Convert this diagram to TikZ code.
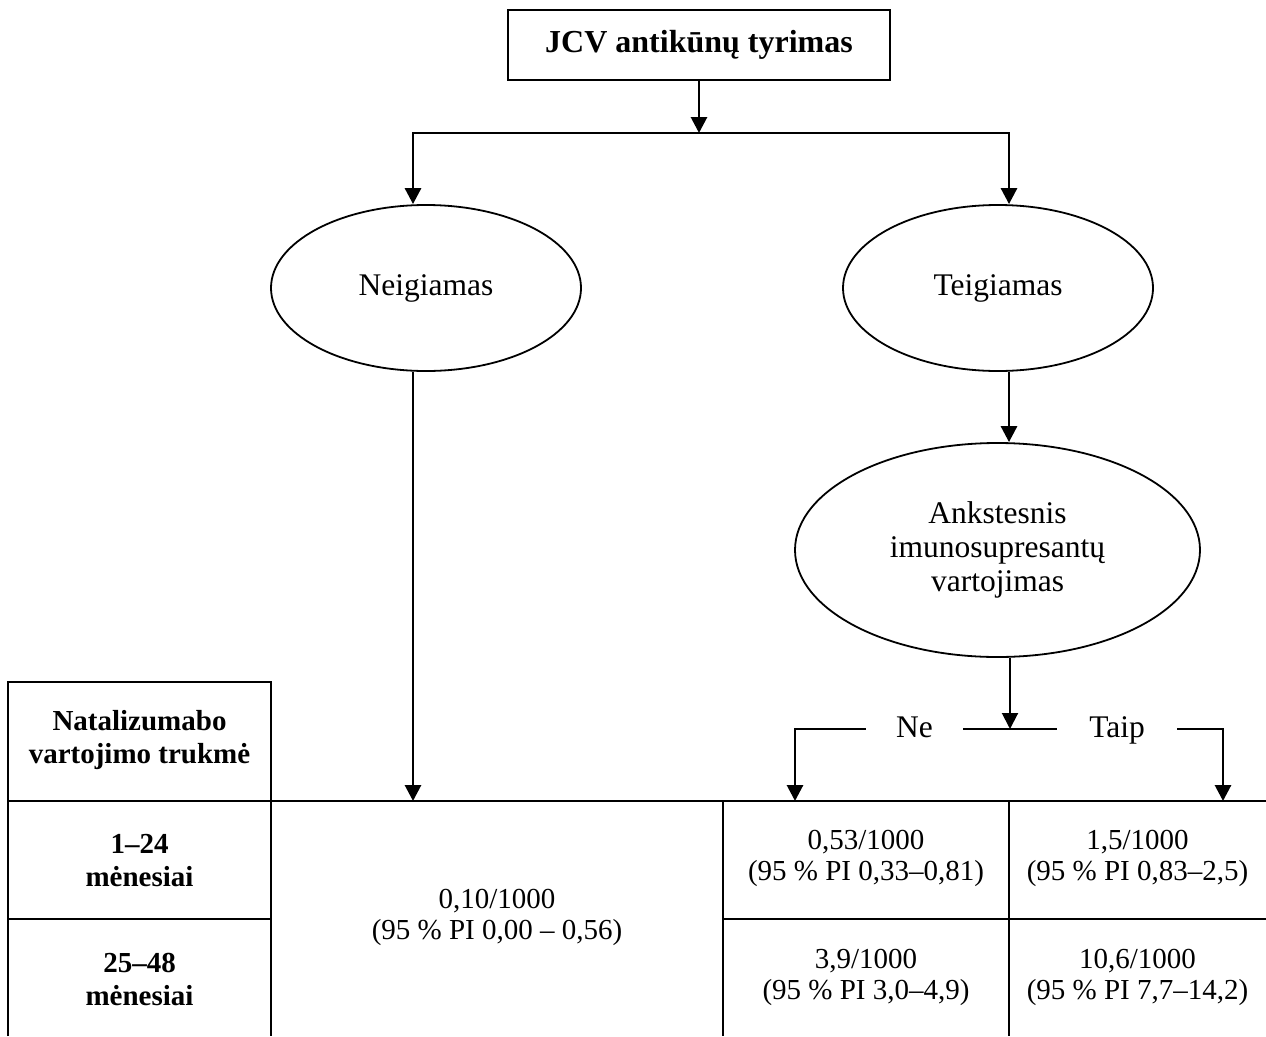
\documentclass[tikz,border=0pt]{standalone}
\usepackage{fontspec}
\setmainfont{Liberation Serif}
\usetikzlibrary{arrows.meta,shapes.geometric}
\begin{document}
\begin{tikzpicture}[x=1pt,y=-1pt,
 arr/.style={line width=2.9pt,-{Triangle[width=16pt,length=16pt]}},
 tabline/.style={line width=2.2pt},
 oval/.style={ellipse,draw,line width=1.8pt,inner sep=0pt,font=\fontsize{31.5}{34}\selectfont,align=center},
 celltext/.style={font=\fontsize{29}{31}\selectfont,align=center,inner sep=0pt},
 hdrtext/.style={font=\bfseries\fontsize{29}{33}\selectfont,align=center,inner sep=0pt},
 branchlbl/.style={font=\fontsize{31.5}{34}\selectfont,anchor=base,inner sep=0pt},
]
\useasboundingbox (0,0) rectangle (1266,1036);
% nodes
\node[draw,line width=2.2pt,minimum width=382pt,minimum height=70pt,inner sep=0pt,font=\bfseries\fontsize{32}{36}\selectfont] (title) at (699,45) {JCV antikūnų tyrimas};
\node[oval,minimum width=310pt,minimum height=166pt] (neg) at (426,288) {Neigiamas};
\node[oval,minimum width=310pt,minimum height=166pt] (pos) at (998,288) {Teigiamas};
\node[oval,minimum width=405pt,minimum height=214pt] (prev) at (997.5,550) {Ankstesnis\\imunosupresantų\\vartojimas};
\node[branchlbl,minimum width=97pt] (ne) at (914.5,737) {Ne};
\node[branchlbl,minimum width=120pt] (taip) at (1117,737) {Taip};
% table
\coordinate (tabtop) at (0,801);
\draw[tabline] (8,1036) -- (8,682) -- (271,682) -- (271,1036);
\draw[tabline] (8,801) -- (1266,801);
\draw[tabline] (8,919) -- (271,919);
\draw[tabline] (723,919) -- (1266,919);
\draw[tabline] (723,801) -- (723,1036);
\draw[tabline] (1009,801) -- (1009,1036);
\node[hdrtext] (hdr) at (139.5,740) {Natalizumabo\\vartojimo trukmė};
\node[hdrtext] (m1) at (139.5,861) {1–24\\mėnesiai};
\node[hdrtext] (m2) at (139.5,979) {25–48\\mėnesiai};
\node[celltext] (n0) at (497,917) {0,10/1000\\(95 \% PI 0,00 – 0,56)};
\node[celltext] (c11) at (866,858) {0,53/1000\\(95 \% PI 0,33–0,81)};
\node[celltext] (c12) at (1137.5,858) {1,5/1000\\(95 \% PI 0,83–2,5)};
\node[celltext] (c21) at (866,977) {3,9/1000\\(95 \% PI 3,0–4,9)};
\node[celltext] (c22) at (1137.5,977) {10,6/1000\\(95 \% PI 7,7–14,2)};
% connectors
\coordinate (split) at (699,133);
\coordinate (negx) at (413,133);
\coordinate (posx) at (1009,133);
\coordinate (branch) at (1010,729);
\coordinate (lc) at (795,729);
\coordinate (rc) at (1223,729);
\draw[arr] (title.south) -- (split);
\draw[arr] (split) -| (negx |- neg.north);
\draw[arr] (split) -| (posx |- pos.north);
\draw[arr] (neg.south -| negx) -- (negx |- tabtop);
\draw[arr] (pos.south -| posx) -- (posx |- prev.north);
\draw[arr,line width=2pt] (prev.south -| branch) -- (branch);
\draw[line width=2.2pt] (ne.east |- branch) -- (taip.west |- branch);
\draw[arr] (ne.west |- branch) -| (lc |- tabtop);
\draw[arr] (taip.east |- branch) -| (rc |- tabtop);
\end{tikzpicture}
\end{document}
